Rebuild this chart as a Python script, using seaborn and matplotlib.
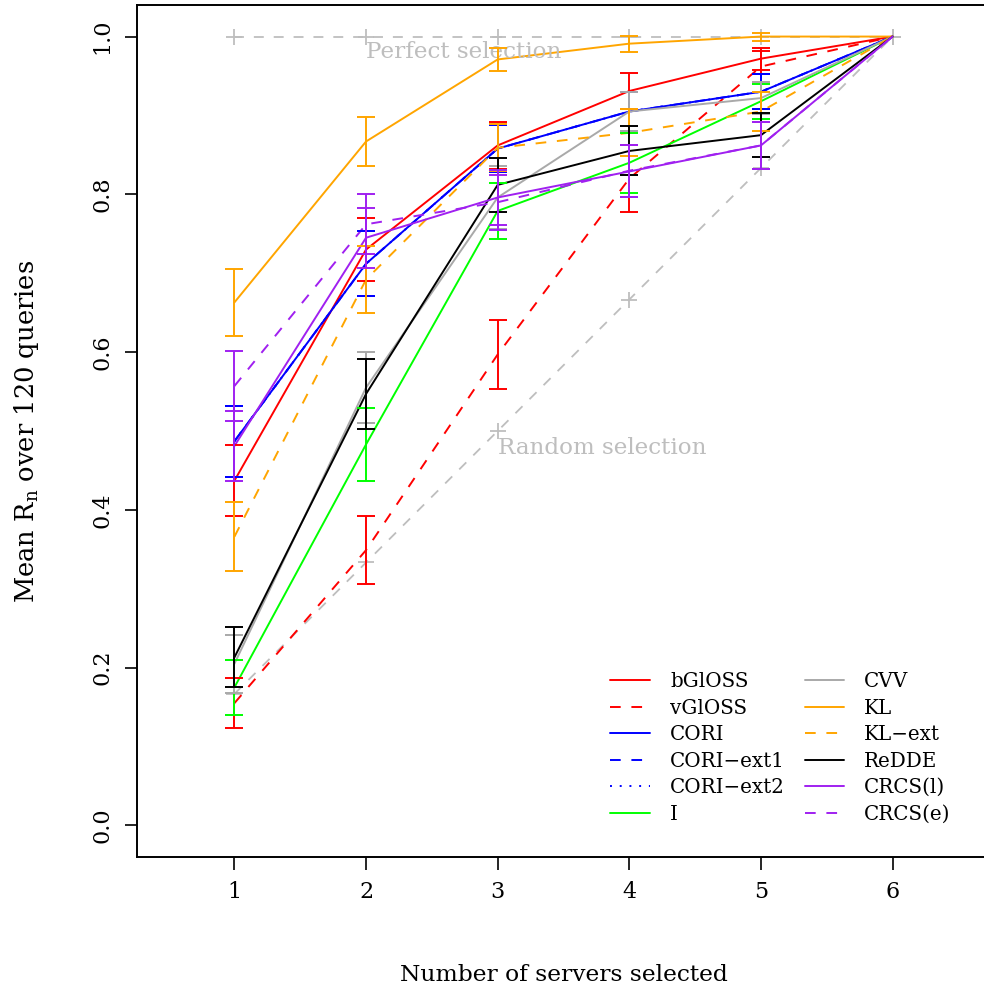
import numpy as np
import pandas as pd
import seaborn as sns
import matplotlib
matplotlib.use('Agg')
import matplotlib.pyplot as plt

# DATA ------------------------------------------------------------------------------------------------
servers = [1, 2, 3, 4, 5, 6]
methods = ['bGlOSS', 'vGlOSS', 'CORI', 'CORI\u2212ext1', 'CORI\u2212ext2', 'I',
           'CVV', 'KL', 'KL\u2212ext', 'ReDDE', 'CRCS(l)', 'CRCS(e)']

bgloss = [0.437, 0.730, 0.862, 0.931, 0.972, 1.0]
vgloss = [0.155, 0.349, 0.597, 0.820, 0.962, 1.0]
cori = [0.487, 0.712, 0.858, 0.905, 0.930, 1.0]
cori_ext1 = [0.487, 0.712, 0.858, 0.905, 0.930, 1.0]
cori_ext2 = [0.487, 0.712, 0.858, 0.905, 0.930, 1.0]
i_method = [0.175, 0.483, 0.779, 0.840, 0.918, 1.0]
cvv = [0.205, 0.555, 0.796, 0.905, 0.922, 1.0]
kl = [0.663, 0.867, 0.971, 0.991, 1.000, 1.0]
kl_ext = [0.366, 0.692, 0.859, 0.878, 0.905, 1.0]
redde = [0.213, 0.547, 0.812, 0.855, 0.875, 1.0]
crcs_l = [0.481, 0.745, 0.796, 0.829, 0.862, 1.0]
crcs_e = [0.557, 0.762, 0.790, 0.830, 0.862, 1.0]

# half-width of the error bars, servers 1..5
bgloss_err = [0.045, 0.040, 0.030, 0.023, 0.014]
vgloss_err = [0.032, 0.043, 0.044, 0.042, 0.020]
cori_err = [0.045, 0.041, 0.030, 0.025, 0.022]
cori_ext1_err = [0.045, 0.041, 0.030, 0.025, 0.022]
cori_ext2_err = [0.045, 0.041, 0.030, 0.025, 0.022]
i_err = [0.035, 0.046, 0.036, 0.038, 0.022]
cvv_err = [0.037, 0.045, 0.040, 0.025, 0.020]
kl_err = [0.042, 0.031, 0.015, 0.010, 0.005]
kl_ext_err = [0.044, 0.042, 0.030, 0.030, 0.025]
redde_err = [0.038, 0.044, 0.034, 0.031, 0.028]
crcs_l_err = [0.044, 0.038, 0.035, 0.033, 0.030]
crcs_e_err = [0.044, 0.038, 0.035, 0.033, 0.030]

perfect = [1.0, 1.0, 1.0, 1.0, 1.0, 1.0]
random_sel = [1 / 6, 2 / 6, 3 / 6, 4 / 6, 5 / 6, 1.0]

values = [bgloss, vgloss, cori, cori_ext1, cori_ext2, i_method,
          cvv, kl, kl_ext, redde, crcs_l, crcs_e]
errors = [bgloss_err, vgloss_err, cori_err, cori_ext1_err, cori_ext2_err, i_err,
          cvv_err, kl_err, kl_ext_err, redde_err, crcs_l_err, crcs_e_err]

colors = ['#FF0000', '#FF0000', '#0000FF', '#0000FF', '#0000FF', '#00FF00',
          '#A9A9A9', '#FFA500', '#FFA500', '#000000', '#A020F0', '#A020F0']
styles = ['solid', 'dashed', 'solid', 'dashed', 'dotted', 'solid',
          'solid', 'solid', 'dashed', 'solid', 'solid', 'dashed']
dash_map = {'solid': '', 'dashed': (5.5, 5.5), 'dotted': (1, 4)}

# long-form table for seaborn
df = pd.DataFrame({
    'servers': servers * len(methods),
    'value': [v for vals in values for v in vals],
    'method': [m for m in methods for _ in servers],
})

# PLOT ------------------------------------------------------------------------------------------------
sns.set_style('ticks', {'axes.edgecolor': 'black', 'text.color': 'black',
                        'xtick.color': 'black', 'ytick.color': 'black',
                        'axes.labelcolor': 'black'})
plt.rcParams['font.family'] = ['DejaVu Serif']
plt.rcParams['mathtext.fontset'] = 'dejavuserif'

fig = plt.figure(figsize=(9.84, 9.9), dpi=100)
ax = fig.add_axes([137 / 984, 133 / 990, 853 / 984, 852 / 990])

# reference lines (perfect / random selection)
for ref in [perfect, random_sel]:
    ax.plot(servers, ref, color='#BEBEBE', linestyle=(0, (5.5, 5.5)), linewidth=1.3,
            marker='+', markersize=12, markeredgewidth=1.3, zorder=1)

sns.lineplot(
    data=df, x='servers', y='value', hue='method', style='method',
    hue_order=methods, style_order=methods,
    palette=dict(zip(methods, colors)),
    dashes={m: dash_map[s] for m, s in zip(methods, styles)},
    linewidth=1.4, ax=ax, zorder=3
)

# error bars (none at 6 servers)
for vals, errs, col in zip(values, errors, colors):
    ax.errorbar(servers[:5], vals[:5], yerr=errs, fmt='none', ecolor=col,
                elinewidth=1.4, capsize=6.5, capthick=1.4, zorder=4, label='_nolegend_')

ax.text(2, 0.98, 'Perfect selection', color='#BEBEBE', fontsize=16.6, ha='left', va='center')
ax.text(3, 0.479, 'Random selection', color='#BEBEBE', fontsize=16.6, ha='left', va='center')

ax.set_xlim(0.26, 6.74)
ax.set_ylim(-0.04, 1.04)
ax.set_xticks(servers)
ax.set_yticks([0.0, 0.2, 0.4, 0.6, 0.8, 1.0])
ax.set_yticklabels(['0.0', '0.2', '0.4', '0.6', '0.8', '1.0'], rotation=90, va='center')
ax.tick_params(axis='both', length=9, width=1.2, labelsize=16, pad=8)
for sp in ax.spines.values():
    sp.set_linewidth(1.4)

ax.set_xlabel('Number of servers selected', fontsize=16.8, labelpad=44)
ax.set_ylabel('Mean R$_\\mathrm{n}$ over 120 queries', fontsize=18.5, labelpad=36)

handles, labels = ax.get_legend_handles_labels()
ax.legend(handles, labels, ncol=2, frameon=False, loc='lower right',
          bbox_to_anchor=(0.975, 0.018), fontsize=14.3, handlelength=2.0,
          handletextpad=1.0, columnspacing=1.0, labelspacing=0.38)

fig.savefig('out.png', dpi=100)
